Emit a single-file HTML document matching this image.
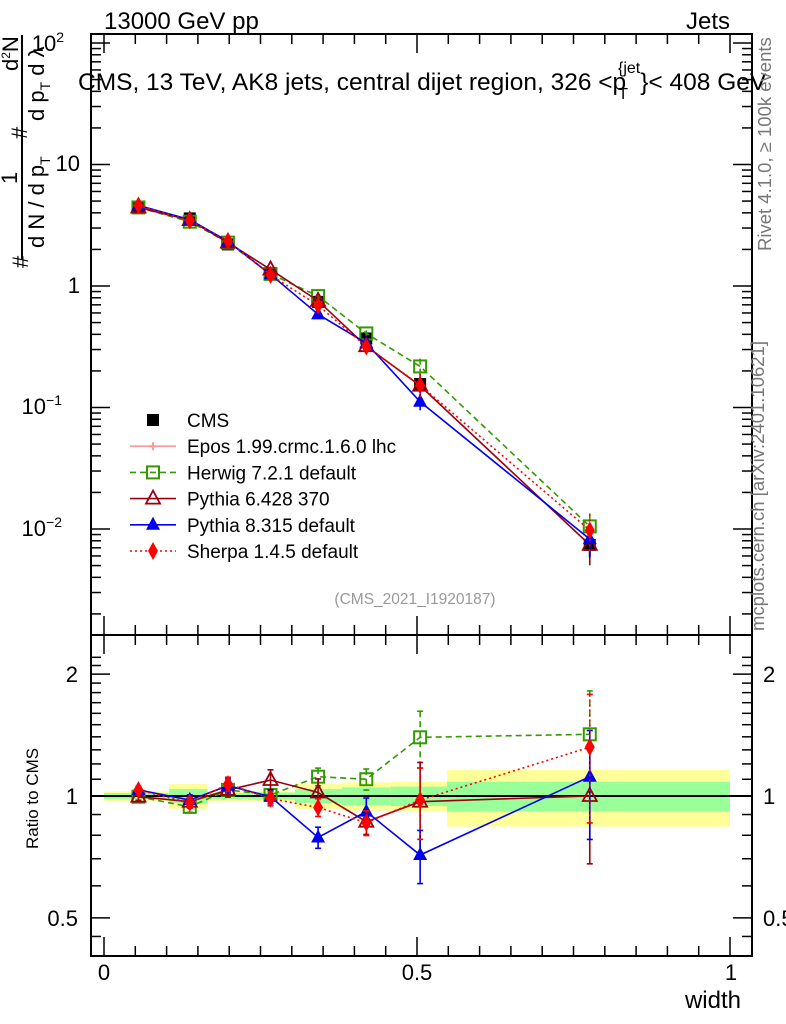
<!DOCTYPE html>
<html><head><meta charset="utf-8"><style>
body{margin:0;background:#fff}
svg{display:block;font-family:"Liberation Sans",sans-serif}
</style></head><body>
<svg id="c" width="786" height="1024" xmlns="http://www.w3.org/2000/svg">
<rect x="0" y="0" width="786" height="1024" fill="#fff"/>
<g id="bands"></g>
<g id="series"></g>
<rect x="91" y="34" width="661" height="601" fill="none" stroke="#000" stroke-width="2"/>
<rect x="91" y="635" width="661" height="321" fill="none" stroke="#000" stroke-width="2"/>
<g id="axes"></g>
<text x="104" y="29" font-size="24">13000 GeV pp</text>
<text x="730" y="29" font-size="24" text-anchor="end">Jets</text>
<text x="78" y="90" font-size="24.5">CMS, 13 TeV, AK8 jets, central dijet region, 326 &lt;p<tspan font-size="16" dy="9" dx="-8">T</tspan><tspan font-size="16" dy="-26" dx="-10">{jet</tspan><tspan dy="17">}&lt; 408 GeV</tspan></text>
<text x="415" y="604" font-size="15.5" fill="#999" text-anchor="middle">(CMS_2021_I1920187)</text>
<text transform="translate(771,251) rotate(-90)" font-size="18.5" fill="#777">Rivet 4.1.0, ≥ 100k events</text>
<text transform="translate(764,631) rotate(-90)" font-size="18.5" fill="#777">mcplots.cern.ch [arXiv:2401.10621]</text>
<g font-size="22">
<line x1="22" y1="35" x2="22" y2="260" stroke="#000" stroke-width="2"/>
<text transform="translate(28,268) rotate(-90)">#</text>
<text transform="translate(17,184) rotate(-90)">1</text>
<text transform="translate(44,248) rotate(-90)">d N / d p<tspan font-size="14" dy="6">T</tspan></text>
<text transform="translate(27,139) rotate(-90)">#</text>
<text transform="translate(18,71) rotate(-90)">d<tspan font-size="12" dy="-8">2</tspan><tspan dy="8">N</tspan></text>
<text transform="translate(44,121) rotate(-90)">d p<tspan font-size="14" dy="6">T</tspan><tspan dy="-6"> d λ</tspan></text>
</g>
<text transform="translate(38,849) rotate(-90)" font-size="17">Ratio to CMS</text>
<text x="741" y="1008" font-size="24" text-anchor="end">width</text>
<g id="legend"></g>
</svg>
<script>
const xCenters=[0.055,0.137,0.198,0.266,0.342,0.419,0.505,0.776];
const binEdges=[0,0.104,0.165,0.23,0.305,0.38,0.458,0.548,1.0];
const cmsValues=[4.45,3.6,2.2,1.25,0.74,0.37,0.156,0.0074];
const cmsErr=[0.03,0.03,0.03,0.04,0.05,0.06,0.08,0.2];
const bandYellow=[0.028,0.07,0.028,0.03,0.07,0.08,0.085,0.16];
const bandGreen=[0.017,0.04,0.017,0.02,0.04,0.05,0.055,0.085];
const herwigRatio=[0.996,0.94,1.035,1.006,1.116,1.10,1.396,1.42];
const herwigErr=[0.02,0.03,0.03,0.03,0.05,0.06,0.16,0.28];
const py6Ratio=[0.996,0.968,1.035,1.095,1.02,0.864,0.968,1.0];
const py6Err=[0.02,0.03,0.04,0.06,0.08,0.07,0.25,0.32];
const py8Ratio=[1.035,0.977,1.06,0.996,0.79,0.915,0.715,1.116];
const py8Err=[0.02,0.03,0.04,0.04,0.06,0.08,0.15,0.3];
const sherpaRatio=[1.035,0.962,1.07,0.985,0.937,0.859,0.977,1.32];
const sherpaErr=[0.02,0.03,0.04,0.04,0.05,0.07,0.2,0.35];

const NS="http://www.w3.org/2000/svg";
const X=v=>104+626*v;
const Y=v=>286-121.5*Math.log10(v);
const R=r=>796-405*Math.log10(r);
function mk(tag,attrs,parent){const e=document.createElementNS(NS,tag);for(const k in attrs)e.setAttribute(k,attrs[k]);parent.appendChild(e);return e;}
const bands=document.getElementById('bands'),series=document.getElementById('series'),axes=document.getElementById('axes'),legend=document.getElementById('legend');

for(let i=0;i<xCenters.length;i++){
  const x0=X(binEdges[i]),x1=X(binEdges[i+1]);
  let e=mk('rect',{x:x0,y:R(1+bandYellow[i]),width:x1-x0,height:R(1-bandYellow[i])-R(1+bandYellow[i]),fill:'#ffff99'},bands);
  
  
  e=mk('rect',{x:x0,y:R(1+bandGreen[i]),width:x1-x0,height:R(1-bandGreen[i])-R(1+bandGreen[i]),fill:'#99ff99'},bands);
  
  
}
let rl=mk('line',{x1:91,x2:752,y1:R(1),y2:R(1),stroke:'#000','stroke-width':2},bands);



function marker(g,kind,x,y,color){
  if(kind==='sq')return mk('rect',{x:x-6,y:y-6,width:12,height:12,fill:color},g);
  if(kind==='osq')return mk('rect',{x:x-6,y:y-6,width:12,height:12,fill:'none',stroke:color,'stroke-width':2},g);
  if(kind==='otri')return mk('path',{d:`M${x},${y-8}L${x+7},${y+5}L${x-7},${y+5}Z`,fill:'none',stroke:color,'stroke-width':1.8},g);
  if(kind==='tri')return mk('path',{d:`M${x},${y-8}L${x+7},${y+5}L${x-7},${y+5}Z`,fill:color},g);
  if(kind==='dia')return mk('path',{d:`M${x},${y-9}L${x+5},${y}L${x},${y+9}L${x-5},${y}Z`,fill:color},g);
  if(kind==='cross')return mk('path',{d:`M${x-4},${y}h8M${x},${y-4}v8`,stroke:color,'stroke-width':2},g);
}
const seriesDefs=[
 {name:'herwig',ratio:herwigRatio,err:herwigErr,color:'#339900',dash:'6,4',mk:'osq',label:'Herwig 7.2.1 default'},
 {name:'pythia6',ratio:py6Ratio,err:py6Err,color:'#990011',dash:'',mk:'otri',label:'Pythia 6.428 370'},
 {name:'pythia8',ratio:py8Ratio,err:py8Err,color:'#0000ee',dash:'',mk:'tri',label:'Pythia 8.315 default'},
 {name:'sherpa',ratio:sherpaRatio,err:sherpaErr,color:'#ff0000',dash:'2,3',mk:'dia',label:'Sherpa 1.4.5 default'}
];
{const g=mk('g',{},series);
 
 
 cmsValues.forEach((v,i)=>{mk('line',{x1:X(xCenters[i]),x2:X(xCenters[i]),y1:Y(v*(1+cmsErr[i])),y2:Y(v*(1-cmsErr[i])),stroke:'#000','stroke-width':2},g);
 const m=marker(g,'sq',X(xCenters[i]),Y(v),'#000');
 
 });}
seriesDefs.forEach(s=>{
 ['main','ratio'].forEach(panel=>{
  const g=mk('g',{},series);
  
  
  const f=panel==='main'?(i,r)=>Y(cmsValues[i]*r):(i,r)=>R(r);
  const pts=xCenters.map((x,i)=>X(x)+','+f(i,s.ratio[i])).join(' ');
  mk('polyline',{points:pts,fill:'none',stroke:s.color,'stroke-width':1.6,'stroke-dasharray':s.dash},g);
  xCenters.forEach((x,i)=>{
   const xx=X(x),r=s.ratio[i],e=s.err[i];
   mk('line',{x1:xx,x2:xx,y1:f(i,r*(1+e)),y2:f(i,r*(1-e)),stroke:s.color,'stroke-width':1.6,'stroke-dasharray':s.dash},g);
   if(panel==='ratio'){mk('line',{x1:xx-3,x2:xx+3,y1:f(i,r*(1+e)),y2:f(i,r*(1+e)),stroke:s.color,'stroke-width':1.6},g);
    mk('line',{x1:xx-3,x2:xx+3,y1:f(i,r*(1-e)),y2:f(i,r*(1-e)),stroke:s.color,'stroke-width':1.6},g);}
   const m=marker(g,s.mk,xx,f(i,r),s.color);
   
   
  });
 });
});

const legItems=[{mk:'sq',color:'#000',label:'CMS',dash:null},{mk:'cross',color:'#ff9999',label:'Epos 1.99.crmc.1.6.0 lhc',dash:''}].concat(seriesDefs);
legItems.forEach((it,i)=>{
 const y=420+i*26.2;
 const g=mk('g',{},legend);
 
 
 if(it.dash!==null)mk('line',{x1:130,x2:176,y1:y,y2:y,stroke:it.color,'stroke-width':1.6,'stroke-dasharray':it.dash},g);
 marker(g,it.mk,153,y,it.color);
 const t=mk('text',{x:187,y:y+7,'font-size':19},g);t.textContent=it.label;
});

function tick(x1,y1,x2,y2){mk('line',{x1,y1,x2,y2,stroke:'#000','stroke-width':1.5},axes);}
function label(x,y,txt,anchor,size,sup){const t=mk('text',{x,y,'font-size':size||20,'text-anchor':anchor||'end'},axes);t.textContent=txt;if(sup){const s=mk('tspan',{'font-size':14,dy:-9},t);s.textContent=sup;}return t;}
for(let d=-3;d<=2;d++){for(let k=1;k<10;k++){const v=k*Math.pow(10,d);const y=Y(v);if(y<35||y>634)continue;const L=k===1?18:9;tick(92,y,92+L,y);tick(751,y,751-L,y);}}
label(80,293,'1','end',22);label(80,171,'10','end',22);label(64,51,'10','end',22,'2');label(62,414,'10','end',22,'−1');label(62,536,'10','end',22,'−2');
[0.5,0.6,0.7,0.8,0.9,1,2].forEach(r=>{const y=R(r);const L=(r===0.5||r===1||r===2)?18:9;tick(92,y,92+L,y);tick(751,y,751-L,y);});
[1.1,1.2,1.3,1.4,1.5,1.6,1.7,1.8,1.9,2.1,2.2].forEach(r=>{const y=R(r);if(y>636){tick(92,y,101,y);tick(751,y,742,y);}});
[0.45,0.4].forEach(r=>{const y=R(r);if(y<955){tick(92,y,101,y);tick(751,y,742,y);}});
[['2',2],['1',1],['0.5',0.5]].forEach(([t,r])=>{label(78,R(r)+8,t,'end',22);label(763,R(r)+8,t,'start',22);});
for(let i=-2;i<=20;i++){const v=i*0.05;const x=X(v);if(x<92||x>751)continue;const L=(i%10===0)?18:9;
 tick(x,35,x,35+L);tick(x,634,x,634-L);tick(x,636,x,636+L);tick(x,955,x,955-L);}
label(104,980,'0','middle',22);label(417,980,'0.5','middle',22);label(731,980,'1','middle',22);
</script>
</body></html>
